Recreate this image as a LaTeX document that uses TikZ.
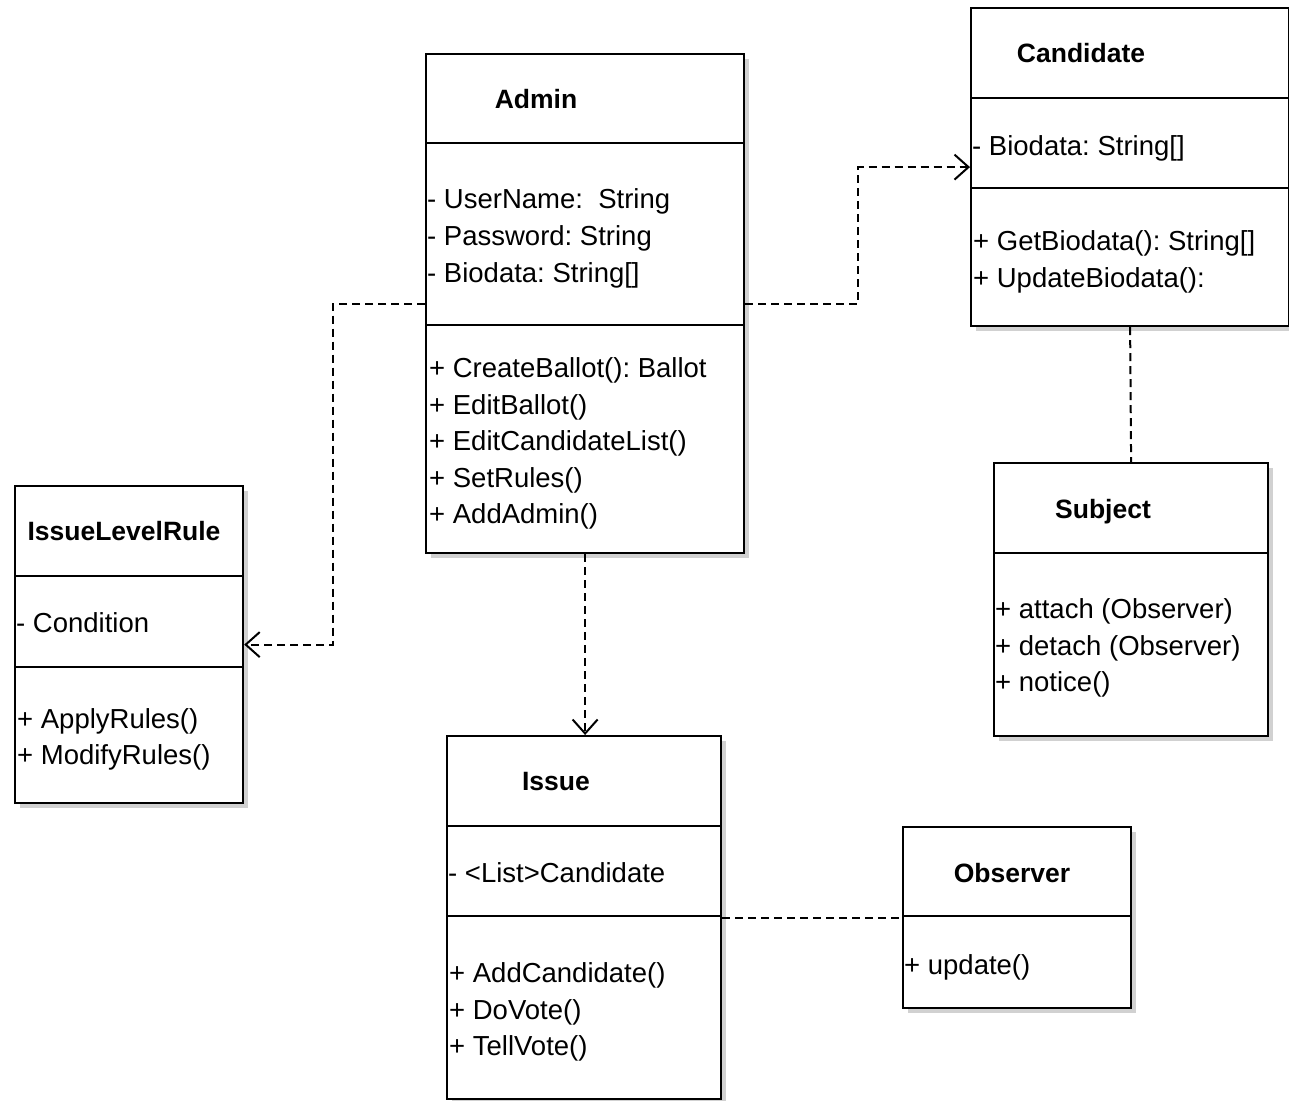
\documentclass[tikz,border=0pt]{standalone}
\usepackage{fontspec}
\setmainfont{Liberation Sans}
\usetikzlibrary{arrows.meta,shadows}
\frenchspacing
\tikzset{
  classbox/.style={draw=black, line width=2.2pt, fill=white, anchor=north west, inner sep=0pt,
    drop shadow={shadow xshift=5pt, shadow yshift=-5pt, fill=black!18, opacity=1}},
  divider/.style={line width=1.8pt},
  classname/.style={anchor=base, inner sep=0pt, font=\fontsize{26.5}{30}\selectfont\bfseries},
  member/.style={anchor=base west, inner sep=0pt, font=\fontsize{27.5}{30}\selectfont},
  dep/.style={line width=2pt, dash pattern=on 8pt off 5pt,
    -{Straight Barb[length=14pt, width=25pt, line width=2pt]}},
  link/.style={line width=2pt, dash pattern=on 8pt off 5pt},
}
\begin{document}
\begin{tikzpicture}[x=1pt,y=-1pt]
    \useasboundingbox (0,0) rectangle (1289,1100);
    %% Admin
    \node [classbox, minimum width=318pt, minimum height=499pt] (admin) at (425,53) {};
    \draw [divider] (admin.west |- 0,143) -- (admin.east |- 0,143);
    \draw [divider] (admin.west |- 0,325) -- (admin.east |- 0,325);
    \node [classname] (adminT) at (536,108) {Admin};
    \node [member] (adminA1) at (427,208) {- UserName:\ \ String};
    \node [member] (adminA2) at (427,245) {- Password: String};
    \node [member] (adminA3) at (427,282) {- Biodata: String[]};
    \node [member] (adminM1) at (429,377) {+ CreateBallot(): Ballot};
    \node [member] (adminM2) at (429,414) {+ EditBallot()};
    \node [member] (adminM3) at (429,450) {+ EditCandidateList()};
    \node [member] (adminM4) at (429,487) {+ SetRules()};
    \node [member] (adminM5) at (429,523) {+ AddAdmin()};

    %% Candidate
    \node [classbox, minimum width=318pt, minimum height=318pt] (cand) at (970,7) {};
    \draw [divider] (cand.west |- 0,98) -- (cand.east |- 0,98);
    \draw [divider] (cand.west |- 0,188) -- (cand.east |- 0,188);
    \node [classname] (candT) at (1081,62) {Candidate};
    \node [member] (candA1) at (972,155) {- Biodata: String[]};
    \node [member] (candM1) at (973,250) {+ GetBiodata(): String[]};
    \node [member] (candM2) at (973,287) {+ UpdateBiodata():};

    %% Subject
    \node [classbox, minimum width=274pt, minimum height=273pt] (subj) at (993,462) {};
    \draw [divider] (subj.west |- 0,553) -- (subj.east |- 0,553);
    \node [classname] (subjT) at (1103,518) {Subject};
    \node [member] (subjM1) at (995,618) {+ attach (Observer)};
    \node [member] (subjM2) at (995,655) {+ detach (Observer)};
    \node [member] (subjM3) at (995,691) {+ notice()};

    %% IssueLevelRule
    \node [classbox, minimum width=228pt, minimum height=317pt] (rule) at (14,485) {};
    \draw [divider] (rule.west |- 0,576) -- (rule.east |- 0,576);
    \draw [divider] (rule.west |- 0,667) -- (rule.east |- 0,667);
    \node [classname] (ruleT) at (124,540) {IssueLevelRule};
    \node [member] (ruleA1) at (16,632) {- Condition};
    \node [member] (ruleM1) at (17,728) {+ ApplyRules()};
    \node [member] (ruleM2) at (17,764) {+ ModifyRules()};

    %% Issue
    \node [classbox, minimum width=274pt, minimum height=363pt] (issue) at (446,735) {};
    \draw [divider] (issue.west |- 0,826) -- (issue.east |- 0,826);
    \draw [divider] (issue.west |- 0,916) -- (issue.east |- 0,916);
    \node [classname] (issueT) at (556,790) {Issue};
    \node [member] (issueA1) at (448,882) {- <List>Candidate};
    \node [member] (issueM1) at (449,982) {+ AddCandidate()};
    \node [member] (issueM2) at (449,1019) {+ DoVote()};
    \node [member] (issueM3) at (449,1055) {+ TellVote()};

    %% Observer
    \node [classbox, minimum width=228pt, minimum height=181pt] (obs) at (902,826) {};
    \draw [divider] (obs.west |- 0,916) -- (obs.east |- 0,916);
    \node [classname] (obsT) at (1012,882) {Observer};
    \node [member] (obsM1) at (904,974) {+ update()};

    %% dependencies
    \draw [dep] (admin.west) -- ++(-92,0) |- (rule.east);
    \draw [dep] (admin.east) -- ++(113,0) |- (cand.west);
    \draw [dep] (admin.south) -- (issue.north -| admin.south);
    \draw [link] (cand.south) -- (subj.north);
    \draw [link] (issue.east) -- (obs.west);
\end{tikzpicture}
\end{document}
